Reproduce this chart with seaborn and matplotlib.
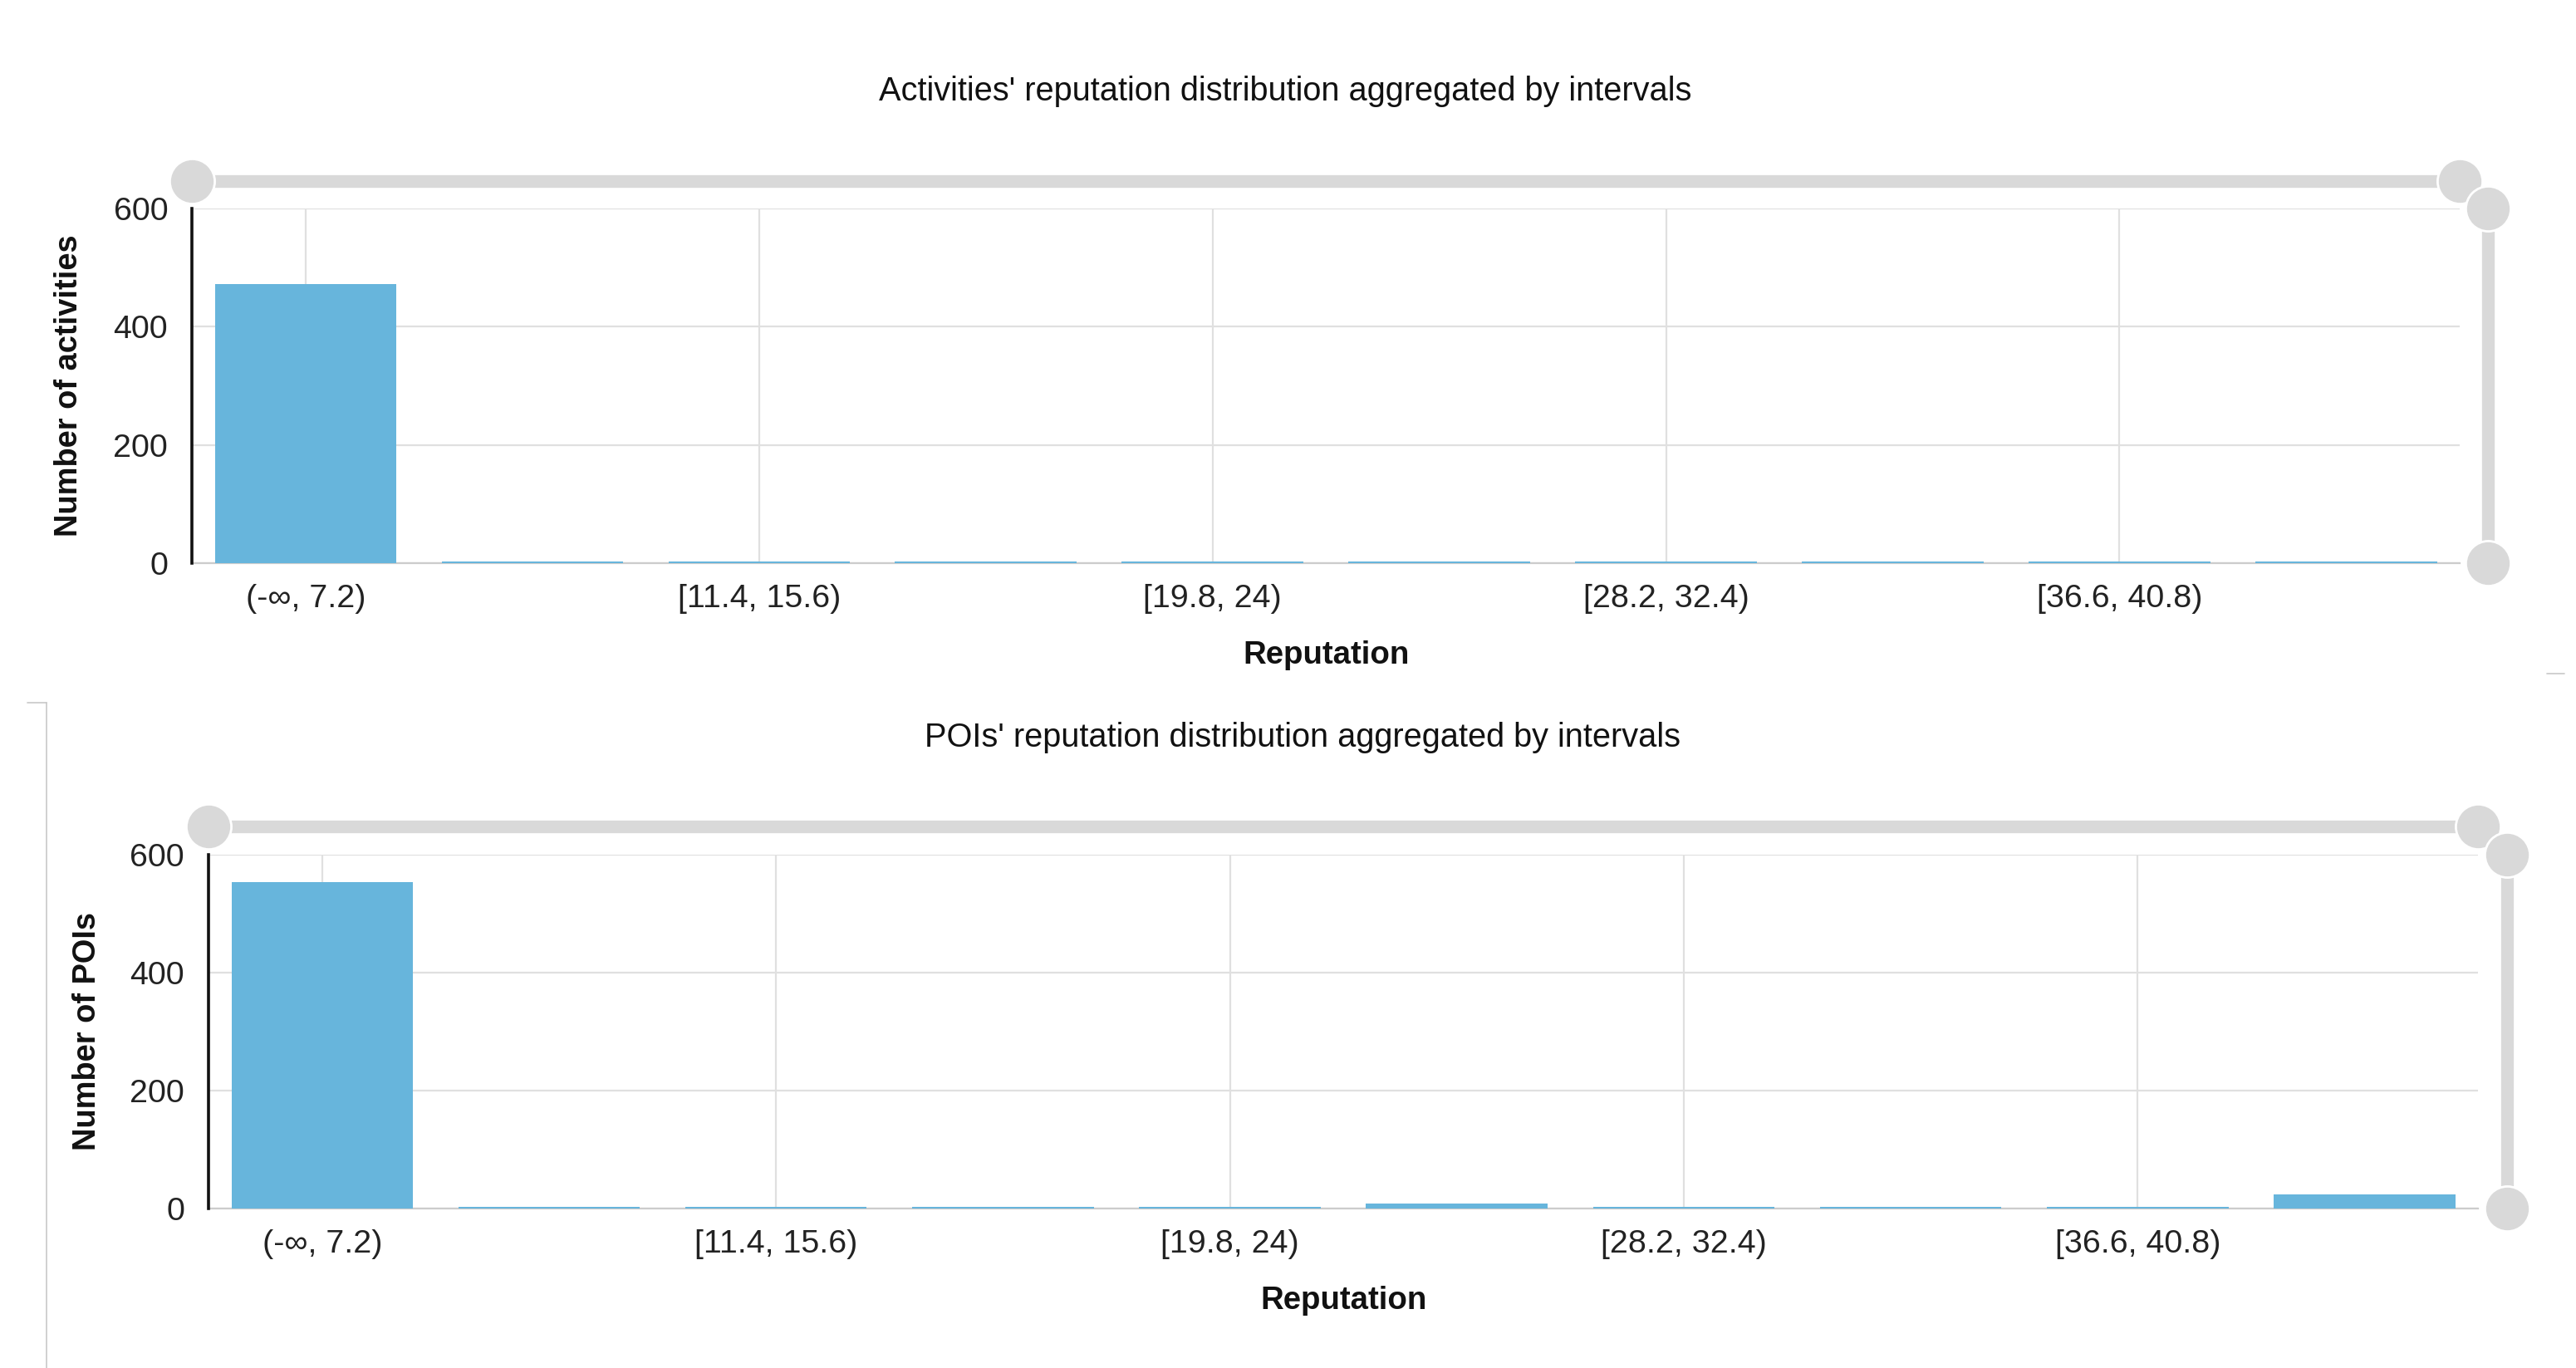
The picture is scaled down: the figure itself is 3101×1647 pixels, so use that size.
import matplotlib
matplotlib.use("Agg")
import matplotlib.pyplot as plt
import seaborn as sns
from matplotlib.lines import Line2D

# Reputation intervals (10 bins)
intervals = ["(-∞, 7.2)", "[7.2, 11.4)", "[11.4, 15.6)", "[15.6, 19.8)", "[19.8, 24)",
             "[24, 28.2)", "[28.2, 32.4)", "[32.4, 36.6)", "[36.6, 40.8)", "[40.8, +∞)"]
activities_counts = [472, 3, 3, 3, 3, 3, 3, 3, 3, 3]
pois_counts = [553, 3, 3, 3, 3, 8, 3, 3, 3, 24]

titles = ["Activities' reputation distribution aggregated by intervals",
          "POIs' reputation distribution aggregated by intervals"]
ylabels = ["Number of activities", "Number of POIs"]
xlabel = "Reputation"
yticks = [0, 200, 400, 600]

bar_color = "#67b5dc"
slider_color = "#d9d9d9"
grid_color = "#e0e0e0"

sns.set_theme(style="white")
plt.rcParams['font.family'] = ['Liberation Sans', 'DejaVu Sans']

fig = plt.figure(figsize=(15.505, 8.235), dpi=200)
fig.patch.set_facecolor("white")

ax_top = fig.add_axes([0.0746, 0.5883, 0.8802, 0.2593])
ax_bot = fig.add_axes([0.0810, 0.1166, 0.8810, 0.2586])

panels = [(ax_top, activities_counts, titles[0], ylabels[0], -0.0542, 1.077, 1.0125),
          (ax_bot, pois_counts, titles[1], ylabels[1], -0.0534, 1.080, 1.0128)]

for ax, counts, title, ylab, ylab_x, hslider_y, vslider_x in panels:
    sns.barplot(x=intervals, y=counts, color=bar_color, saturation=1, width=0.8,
                edgecolor="none", linewidth=0, ax=ax, zorder=3)
    ax.set_xlim(-0.5, 9.5)
    ax.set_ylim(0, 600)
    ax.set_yticks(yticks)
    ax.set_xticks(range(0, 10, 2))
    ax.set_xticklabels(intervals[::2])
    ax.tick_params(axis="both", length=0, labelsize=14.2, colors="#222222")
    ax.tick_params(axis="y", pad=10.5)
    ax.tick_params(axis="x", pad=9)

    ax.grid(True, color=grid_color, lw=0.8)
    ax.set_axisbelow(True)
    for side in ["top", "right"]:
        ax.spines[side].set_visible(False)
    ax.spines["left"].set_color("#111111")
    ax.spines["left"].set_linewidth(1.3)
    ax.spines["left"].set_zorder(4)
    ax.spines["bottom"].set_color("#cccccc")
    ax.spines["bottom"].set_linewidth(0.8)
    ax.spines["bottom"].set_zorder(2)

    ax.set_xlabel(xlabel, fontsize=13.8, fontweight="bold", color="#111111")
    ax.xaxis.label.set_va("center")
    ax.xaxis.set_label_coords(0.5, -0.26)
    ax.set_ylabel(ylab, fontsize=13.7, fontweight="bold", color="#111111")
    ax.yaxis.label.set_va("center")
    ax.yaxis.set_label_coords(ylab_x, 0.5)

    ax.text(0.482, 1.33, title, transform=ax.transAxes, ha="center", va="center",
            fontsize=14.3, color="#111111")

    # data zoom sliders (decoration)
    ax.plot([0, 1], [hslider_y, hslider_y], transform=ax.transAxes, color=slider_color,
            lw=5.5, solid_capstyle="butt", clip_on=False, zorder=5)
    ax.scatter([0, 1], [hslider_y, hslider_y], transform=ax.transAxes, s=380,
               color=slider_color, edgecolor="white", linewidth=1, clip_on=False, zorder=6)
    ax.plot([vslider_x, vslider_x], [0, 1], transform=ax.transAxes, color=slider_color,
            lw=5.5, solid_capstyle="butt", clip_on=False, zorder=5)
    ax.scatter([vslider_x, vslider_x], [0, 1], transform=ax.transAxes, s=380,
               color=slider_color, edgecolor="white", linewidth=1, clip_on=False, zorder=6)

# faint screenshot frame lines
fig.add_artist(Line2D([56 / 3101, 56 / 3101], [1 - 846 / 1647, 0], color="#c8c8c8", lw=0.6))
fig.add_artist(Line2D([33 / 3101, 56 / 3101], [1 - 846 / 1647, 1 - 846 / 1647], color="#c8c8c8", lw=0.6))
fig.add_artist(Line2D([3066 / 3101, 3087 / 3101], [1 - 811 / 1647, 1 - 811 / 1647], color="#c8c8c8", lw=0.6))

fig.savefig("out.png", dpi=200)
